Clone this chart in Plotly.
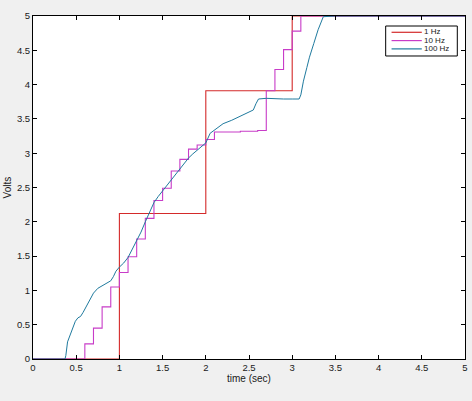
import plotly.graph_objects as go

# 1 Hz samples
t_1hz = [0, 1, 2, 3, 5]
v_1hz = [0, 2.12, 3.91, 5.0, 5.0]

# 10 Hz samples
t_10hz = [0, 0.6, 0.7, 0.8, 0.9, 1.0, 1.1, 1.2, 1.3, 1.4, 1.5, 1.6, 1.7, 1.8, 1.9,
          2.0, 2.1, 2.2, 2.3, 2.4, 2.5, 2.6, 2.7, 2.8, 2.9, 3.0, 3.1, 5.0]
v_10hz = [0, 0.22, 0.45, 0.76, 1.05, 1.26, 1.49, 1.75, 2.05, 2.31, 2.49, 2.74, 2.91, 3.06, 3.12,
          3.20, 3.31, 3.31, 3.31, 3.32, 3.32, 3.33, 3.91, 4.22, 4.51, 4.78, 5.0, 5.0]

# 100 Hz samples
t_100hz = [0, 0.37, 0.38, 0.40, 0.43, 0.46, 0.49, 0.52, 0.55, 0.58, 0.62, 0.66, 0.70, 0.75,
           0.80, 0.85, 0.90, 0.93, 0.96, 1.00, 1.05, 1.10, 1.15, 1.20, 1.25, 1.30, 1.35, 1.40,
           1.45, 1.50, 1.55, 1.60, 1.65, 1.70, 1.75, 1.80, 1.85, 1.90, 1.95, 2.00, 2.05, 2.10,
           2.20, 2.30, 2.40, 2.50, 2.55, 2.58, 2.61, 2.70, 2.80, 2.90, 3.00, 3.08, 3.10, 3.13,
           3.17, 3.20, 3.25, 3.30, 3.36, 3.50, 5.00]
v_100hz = [0, 0, 0.05, 0.25, 0.35, 0.45, 0.55, 0.60, 0.62, 0.68, 0.78, 0.88, 0.96, 1.03,
           1.07, 1.10, 1.14, 1.20, 1.28, 1.34, 1.40, 1.48, 1.60, 1.72, 1.85, 2.00, 2.15, 2.28,
           2.37, 2.45, 2.53, 2.62, 2.70, 2.77, 2.85, 2.93, 2.99, 3.04, 3.09, 3.15, 3.29, 3.34,
           3.43, 3.48, 3.54, 3.59, 3.63, 3.72, 3.79, 3.80, 3.79, 3.79, 3.79, 3.79, 3.85, 4.05,
           4.25, 4.40, 4.60, 4.80, 4.99, 5.0, 5.0]

series_names = ["1 Hz", "10 Hz", "100 Hz"]
series_colors = ["#d42a2a", "#c83cc8", "#1f7a9e"]
FONT = "Liberation Sans, Arial, sans-serif"

fig = go.Figure()
fig.add_trace(go.Scatter(x=t_1hz, y=v_1hz, mode="lines", name=series_names[0],
                         line=dict(color=series_colors[0], width=1.1, shape="hv")))
fig.add_trace(go.Scatter(x=t_10hz, y=v_10hz, mode="lines", name=series_names[1],
                         line=dict(color=series_colors[1], width=1.1, shape="hv")))
fig.add_trace(go.Scatter(x=t_100hz, y=v_100hz, mode="lines", name=series_names[2],
                         line=dict(color=series_colors[2], width=1.0)))

axis_common = dict(
    showline=True, linecolor="black", linewidth=1, mirror="ticks",
    ticks="inside", ticklen=4, tickcolor="black", showgrid=False, zeroline=False,
    automargin=False,
    tickfont=dict(family=FONT, size=9.5, color="#1a1a1a"),
)
fig.update_xaxes(range=[0, 5], dtick=0.5, tick0=0, **axis_common)
fig.update_yaxes(range=[0, 5], dtick=0.5, tick0=0, **axis_common)

# axis titles
fig.add_annotation(text="time (sec)", xref="paper", yref="paper", x=0.5, y=-0.056,
                   xanchor="center", yanchor="middle", showarrow=False,
                   font=dict(family=FONT, size=10, color="#1a1a1a"))
fig.add_annotation(text="Volts", xref="paper", yref="paper", x=-0.058, y=0.5,
                   xanchor="center", yanchor="middle", showarrow=False, textangle=-90,
                   font=dict(family=FONT, size=10, color="#1a1a1a"))

# compact MATLAB-style legend
fig.add_shape(type="rect", xref="paper", yref="paper", x0=0.8164, x1=0.9822,
              y0=0.8834, y1=0.9708, line=dict(color="black", width=1), fillcolor="white",
              layer="above")
row_y = [0.9525, 0.9283, 0.9041]
for name, color, ry in zip(series_names, series_colors, row_y):
    fig.add_shape(type="line", xref="paper", yref="paper", x0=0.830, x1=0.900,
                  y0=ry, y1=ry, line=dict(color=color, width=1.2), layer="above")
    fig.add_annotation(text=name, xref="paper", yref="paper", x=0.903, y=ry,
                       xanchor="left", yanchor="middle", showarrow=False,
                       height=7.5, valign="middle", borderpad=0,
                       font=dict(family=FONT, size=8, color="#1a1a1a"))

fig.update_layout(
    width=472, height=401,
    margin=dict(l=33, r=7, t=16, b=42),
    paper_bgcolor="#f0f0f0", plot_bgcolor="white",
    showlegend=False,
)

fig.write_html(
    "out.html",
    config={"displayModeBar": False},
    post_script="document.body.style.margin='0';document.body.style.background='#f0f0f0';"
                "document.body.style.overflow='hidden';",
)
